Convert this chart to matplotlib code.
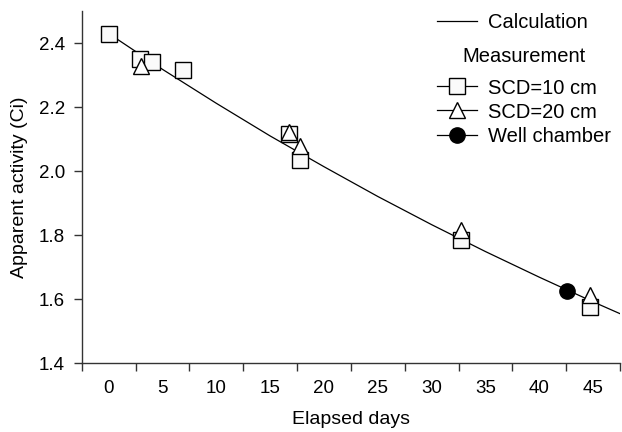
import matplotlib
matplotlib.use("Agg")
import matplotlib.pyplot as plt
from matplotlib.lines import Line2D
import numpy as np

plt.rcParams["font.family"] = ["Liberation Sans", "DejaVu Sans"]

# calculated decay curve
calc_days = [0, 5, 10, 15, 20, 25, 30, 35, 40, 45, 47.5]
calc_act = [2.430, 2.318, 2.212, 2.110, 2.014, 1.921, 1.833, 1.749, 1.669, 1.592, 1.555]

# measurements
scd10_days = [0, 2.9, 4.0, 6.9, 16.8, 17.8, 32.7, 44.7]
scd10_act = [2.428, 2.350, 2.341, 2.317, 2.117, 2.035, 1.785, 1.577]

scd20_days = [3.0, 16.8, 17.8, 32.7, 44.7]
scd20_act = [2.328, 2.122, 2.080, 1.815, 1.612]

well_days = [42.6]
well_act = [1.627]

xticks_lab = [0, 5, 10, 15, 20, 25, 30, 35, 40, 45]
yticks = [1.4, 1.6, 1.8, 2.0, 2.2, 2.4]

fig = plt.figure(figsize=(6.22, 4.32), dpi=100)
ax = fig.add_axes([0.1313, 0.159, 0.8655, 0.8155])

ax.plot(calc_days, calc_act, color="black", lw=0.9, zorder=2)
ax.plot(scd10_days, scd10_act, ls="none", marker="s", ms=12, mfc="#fafafa",
        mec="black", mew=1.0, zorder=3)
ax.plot(scd20_days, scd20_act, ls="none", marker="^", ms=11.5, mfc="white",
        mec="black", mew=1.0, zorder=4)
ax.plot(well_days, well_act, ls="none", marker="o", ms=11, mfc="black",
        mec="black", zorder=5)

ax.set_xlim(-2.5, 47.5)
ax.set_ylim(1.4, 2.5)

# tick marks sit between the labels
ax.set_xticks(np.arange(-2.5, 48, 5))
ax.set_xticklabels([])
ax.set_xticks(xticks_lab, minor=True)
ax.set_xticklabels([str(v) for v in xticks_lab], minor=True)
ax.tick_params(axis="x", which="minor", length=0, pad=12, labelsize=13.5)
ax.tick_params(axis="x", which="major", length=6, width=1.0, color="#333333")

ax.set_yticks(yticks)
ax.set_yticklabels(["%.1f" % v for v in yticks])
ax.tick_params(axis="y", length=6, width=1.0, pad=6, labelsize=13.5, color="#333333")

for s in ["top", "right"]:
    ax.spines[s].set_visible(False)
for s in ["left", "bottom"]:
    ax.spines[s].set_linewidth(1.0)
    ax.spines[s].set_color("#333333")

ax.set_xlabel("Elapsed days", fontsize=14, labelpad=10)
ax.set_ylabel("Apparent activity (Ci)", fontsize=14, labelpad=8)

h_calc = Line2D([], [], color="black", lw=0.9)
leg1 = ax.legend([h_calc], ["Calculation"], loc="upper left",
                 bbox_to_anchor=(437 / 622, 1 - 13 / 432), bbox_transform=fig.transFigure,
                 frameon=False, fontsize=14.5, handlelength=2.0, handletextpad=0.55,
                 borderpad=0, borderaxespad=0)
ax.add_artist(leg1)

h10 = Line2D([], [], color="black", lw=0.9, marker="s", ms=11, mfc="#fafafa", mec="black")
h20 = Line2D([], [], color="black", lw=0.9, marker="^", ms=11, mfc="white", mec="black")
hw = Line2D([], [], color="black", lw=0.9, marker="o", ms=11, mfc="black", mec="black")
leg2 = ax.legend([h10, h20, hw], ["SCD=10 cm", "SCD=20 cm", "Well chamber"],
                 loc="upper left", title="Measurement", title_fontsize=14.5,
                 bbox_to_anchor=(437 / 622, 1 - 47 / 432), bbox_transform=fig.transFigure,
                 frameon=False, fontsize=14.5, handlelength=2.0, handletextpad=0.55,
                 labelspacing=0.25, borderpad=0, borderaxespad=0)
leg2._legend_box.sep = 9

fig.savefig("out.png", dpi=100)
